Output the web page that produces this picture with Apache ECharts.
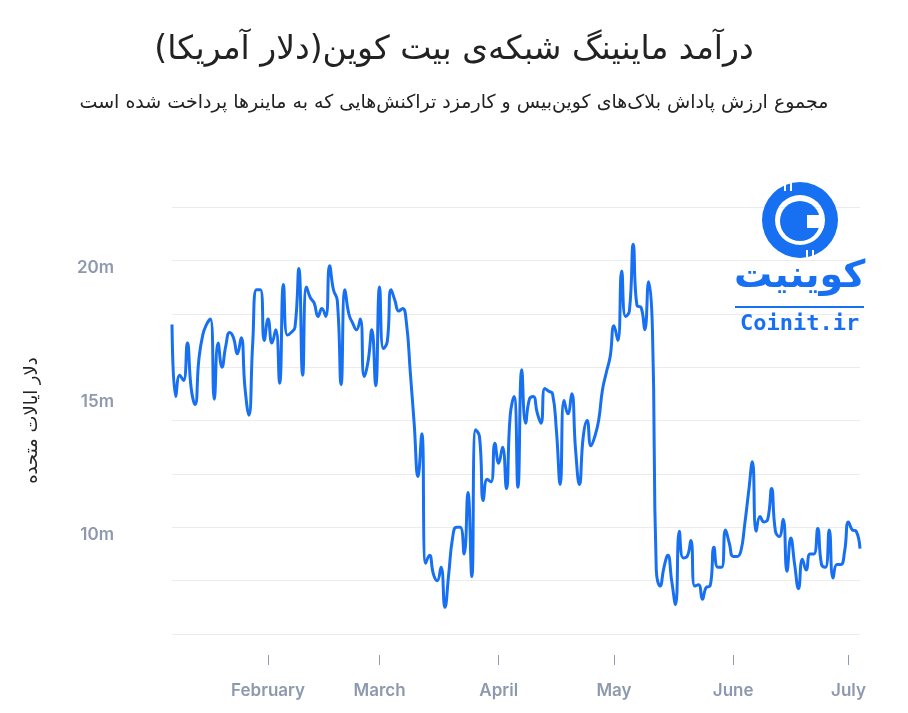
<!DOCTYPE html>
<html>
<head>
<meta charset="utf-8">
<script src="https://cdn.jsdelivr.net/npm/echarts@6/dist/echarts.min.js"></script>
<style>
  html, body { margin: 0; padding: 0; background: #fff; }
  #chart { width: 908px; height: 713px; direction: rtl; }
</style>
</head>
<body>
<div id="chart"></div>
<script>
  // daily miner revenue, million USD, from 2020-01-07
  const startDate = '2020-01-07';
  const revenue = [
    17.6, 14.9, 15.7, 15.5, 16.9, 15.2, 14.6, 16.3, 17.2, 17.6,
    17.8, 14.8, 16.9, 16.0, 16.8, 17.3, 17.1, 16.5, 17.1, 15.2,
    14.2, 16.9, 18.9, 18.9, 17.0, 17.8, 16.9, 17.4, 15.4, 19.1,
    17.2, 17.3, 17.5, 19.7, 15.7, 19.0, 18.6, 18.4, 17.9, 18.2,
    17.9, 19.8, 18.9, 18.5, 15.35, 18.9, 18.0, 17.65, 17.4, 17.8,
    15.65, 16.2, 17.4, 15.3, 19.0, 16.7, 16.95, 18.9, 18.5, 18.1,
    18.2, 17.65, 15.8, 13.9, 11.9, 13.5, 8.65, 8.95, 8.25, 8.0,
    8.5, 7.0, 8.25, 9.6, 10.0, 10.0, 9.0, 11.3, 8.15, 13.65,
    13.4, 11.0, 11.8, 11.7, 13.15, 12.4, 13.0, 11.45, 14.2, 14.9,
    11.5, 15.9, 13.9, 14.8, 14.9, 14.3, 13.9, 15.2, 15.1, 15.0,
    13.65, 11.6, 14.75, 14.25, 15.0, 12.9, 11.6, 13.4, 14.0, 13.05,
    13.4, 14.0, 15.15, 15.8, 16.4, 17.55, 17.0, 19.6, 17.9, 18.1,
    20.6, 18.3, 18.25, 17.4, 19.2, 17.4, 8.4, 7.8, 8.5, 8.95,
    8.0, 7.1, 9.85, 8.85, 8.9, 9.5, 7.8, 7.85, 7.3, 7.75,
    7.8, 9.25, 8.5, 8.5, 9.9, 9.4, 8.9, 8.9, 9.1, 10.1,
    11.3, 12.45, 9.85, 10.4, 10.2, 10.3, 11.45, 9.85, 9.65, 10.3,
    8.35, 9.6, 8.6, 7.7, 8.8, 8.4, 9.0, 9.0, 9.95, 8.6,
    8.5, 9.9, 8.1, 8.6, 8.6, 9.1, 10.2, 9.9, 9.85, 9.2
  ];
  const monthNames = ['January', 'February', 'March', 'April', 'May', 'June', 'July'];
  const yLabelValues = [10, 15, 20];

  const titleText = 'درآمد ماینینگ شبکه‌ی بیت کوین(دلار آمریکا)';
  const subText = 'مجموع ارزش پاداش بلاک‌های کوین‌بیس و کارمزد تراکنش‌هایی که به ماینرها پرداخت شده است';
  const yName = 'دلار ایالات متحده';

  const days = [];
  const t0 = Date.parse(startDate + 'T00:00:00Z');
  for (let i = 0; i < revenue.length; i++) {
    days.push(new Date(t0 + i * 86400000).toISOString().slice(0, 10));
  }
  const isMonthStart = (idx, val) => val.slice(8) === '01';

  const blue = '#176ff2';
  const axisGrey = '#8e99ae';

  const chart = echarts.init(document.getElementById('chart'));
  chart.setOption({
    animation: false,
    title: [{
      text: titleText,
      left: 'center',
      top: 29,
      textStyle: { fontFamily: 'DejaVu Sans', fontSize: 33, fontWeight: 'normal', color: '#222' }
    }, {
      text: subText,
      left: 'center',
      top: 89,
      textStyle: { fontFamily: 'DejaVu Sans', fontSize: 19, fontWeight: 'normal', color: '#222' }
    }],
    grid: { left: 172, right: 48, top: 207, bottom: 79 },
    xAxis: {
      type: 'category',
      data: days,
      boundaryGap: false,
      offset: 21,
      axisLine: { show: false },
      axisTick: { show: true, length: 10, interval: isMonthStart, lineStyle: { color: axisGrey } },
      axisLabel: {
        interval: isMonthStart,
        margin: 27,
        color: axisGrey,
        fontFamily: 'Inter',
        fontWeight: 600,
        fontSize: 17,
        formatter: v => monthNames[parseInt(v.slice(5, 7), 10) - 1]
      },
      splitLine: { show: false }
    },
    yAxis: {
      type: 'value',
      min: 6,
      max: 22,
      interval: 2,
      name: yName,
      nameLocation: 'middle',
      nameGap: 131,
      nameTextStyle: { fontFamily: 'DejaVu Sans', fontSize: 18, color: '#222' },
      axisLine: { show: false },
      axisTick: { show: false },
      axisLabel: {
        customValues: yLabelValues,
        margin: 58,
        verticalAlign: 'top',
        lineHeight: 16,
        color: axisGrey,
        fontFamily: 'Inter',
        fontWeight: 600,
        fontSize: 17,
        formatter: v => v + 'm'
      },
      splitLine: { lineStyle: { color: '#ececec', width: 1 } }
    },
    series: [{
      type: 'line',
      data: revenue,
      smooth: 0.5,
      showSymbol: false,
      lineStyle: { color: blue, width: 3 },
      itemStyle: { color: blue }
    }],
    graphic: [
      { type: 'ring', shape: { cx: 800, cy: 220, r: 38, r0: 25 }, style: { fill: blue }, z: 10 },
      { type: 'circle', shape: { cx: 800, cy: 221, r: 20 }, style: { fill: blue }, z: 10 },
      { type: 'rect', shape: { x: 807, y: 215, width: 17, height: 13 }, style: { fill: '#fff' }, z: 11 },
      { type: 'rect', shape: { x: 784, y: 183, width: 2, height: 8 }, style: { fill: '#fff' }, z: 11 },
      { type: 'rect', shape: { x: 790, y: 183, width: 2, height: 8 }, style: { fill: '#fff' }, z: 11 },
      { type: 'rect', shape: { x: 806, y: 250, width: 2, height: 8 }, style: { fill: '#fff' }, z: 11 },
      { type: 'rect', shape: { x: 812, y: 250, width: 2, height: 8 }, style: { fill: '#fff' }, z: 11 },
      {
        type: 'text', left: 734, top: 258, z: 10,
        style: { text: 'کوینیت', fill: blue, fontFamily: 'DejaVu Sans', fontWeight: 'bold', fontSize: 38 }
      },
      { type: 'rect', shape: { x: 735, y: 306, width: 129, height: 2 }, style: { fill: blue }, z: 10 },
      {
        type: 'text', left: 740, top: 313, z: 10,
        style: { text: 'Coinit.ir', fill: blue, fontFamily: 'DejaVu Sans Mono', fontWeight: 'bold', fontSize: 22 }
      }
    ]
  });
</script>
</body>
</html>
